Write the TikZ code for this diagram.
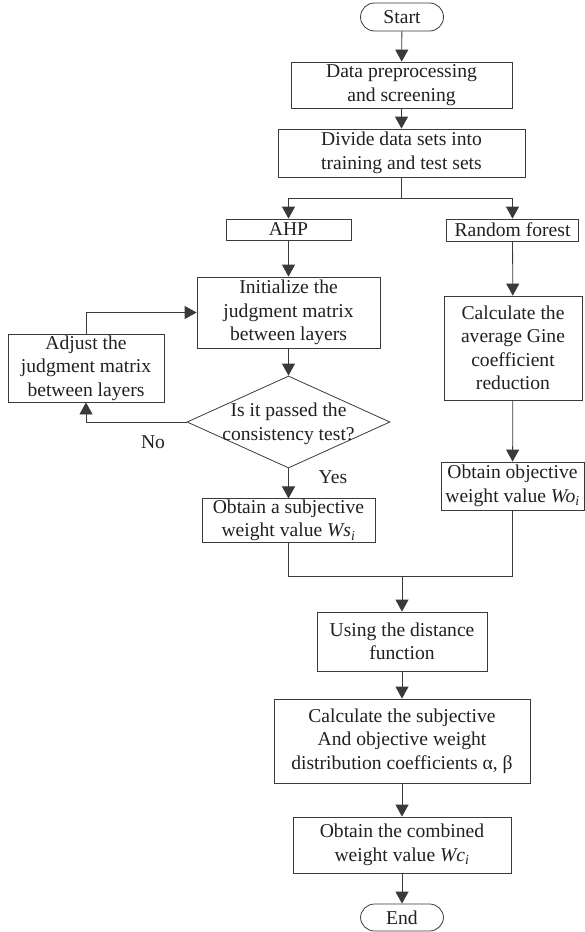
\documentclass[tikz,border=0pt]{standalone}
\usepackage{fontspec}
\setmainfont{Liberation Serif}
\usetikzlibrary{shapes.geometric,arrows.meta}
\definecolor{ink}{HTML}{231F20}
\definecolor{edge}{HTML}{3A3A3A}
\tikzset{
  box/.style={draw=edge, line width=0.8pt, rectangle, align=center, inner sep=1pt, text=ink,
    font=\fontsize{19.6}{23.5}\selectfont},
  term/.style={box, rounded corners=14pt},
  arr/.style={draw=edge, line width=0.8pt, -{Triangle[width=13pt,length=12pt]}},
  ln/.style={draw=edge, line width=0.8pt},
  lbl/.style={text=ink, font=\fontsize{19.6}{23.5}\selectfont, inner sep=0pt}
}
\newcommand{\wsub}[2]{\textit{#1}\textsubscript{\textit{#2}}}
\begin{document}
\begin{tikzpicture}[x=1pt,y=-1pt]
\useasboundingbox (0,0) rectangle (585,932);
\node[term, minimum width=83pt, minimum height=28pt] (start) at (402,17) {Start};
\node[box, minimum width=221pt, minimum height=46pt] (pre) at (401.5,85) {Data preprocessing\\and screening};
\node[box, minimum width=247pt, minimum height=48pt] (div) at (401.5,153) {Divide data sets into\\training and test sets};
\node[box, minimum width=125pt, minimum height=21pt] (ahp) at (288.5,229.5) {AHP};
\node[box, minimum width=132pt, minimum height=22pt] (rf) at (512.5,230) {Random forest};
\node[box, minimum width=183pt, minimum height=71pt] (init) at (288.5,312.5) {Initialize the\\judgment matrix\\between layers};
\node[box, minimum width=156pt, minimum height=68pt] (adj) at (86,368) {Adjust the\\judgment matrix\\between layers};
\node[diamond, draw=edge, line width=0.8pt, minimum width=203pt, minimum height=92pt, inner sep=0pt] (dia) at (288.5,422) {};
\node[lbl, align=center] (diatext) at (288.5,424) {Is it passed the\\consistency test?};
\node[box, minimum width=173pt, minimum height=43pt] (sub) at (288.5,520.5) {Obtain a subjective\\weight value \wsub{Ws}{i}};
\node[box, minimum width=138pt, minimum height=104pt] (calc) at (513,348) {Calculate the\\average Gine\\coefficient\\reduction};
\node[box, minimum width=143pt, minimum height=48pt] (obj) at (512.5,486) {Obtain objective\\weight value \wsub{Wo}{i}};
\node[box, minimum width=170pt, minimum height=59pt] (dist) at (402,641.5) {Using the distance\\function};
\node[box, minimum width=256pt, minimum height=84pt] (coef) at (402,741) {Calculate the subjective\\And objective weight\\distribution coefficients α, β};
\node[box, minimum width=218pt, minimum height=56pt] (comb) at (402,845) {Obtain the combined\\weight value \wsub{Wc}{i}};
\node[term, minimum width=83pt, minimum height=27pt] (end) at (402,917.5) {End};
\node[lbl] (no) at (153,442) {No};
\node[lbl] (yes) at (333,477) {Yes};
\coordinate (j1) at (401.5,198);
\coordinate (j2) at (402,576);
\draw[arr] (start) -- (pre);
\draw[arr] (pre) -- (div);
\draw[ln] (div) -- (j1);
\draw[arr] (j1) -| (ahp);
\draw[arr] (j1) -| (rf);
\draw[arr] (ahp) -- (init);
\draw[arr] (init) -- (dia);
\draw[arr] (dia.west) -| (adj.south);
\draw[arr] (adj.north) |- (init.west);
\draw[arr] (dia.south) -- (sub);
\draw[arr] (rf) -- (calc);
\draw[arr] (calc) -- (obj);
\draw[ln] (sub.south) |- (j2);
\draw[ln] (obj.south) |- (j2);
\draw[arr] (j2) -- (dist);
\draw[arr] (dist) -- (coef);
\draw[arr] (coef) -- (comb);
\draw[arr] (comb) -- (end);
\end{tikzpicture}
\end{document}
